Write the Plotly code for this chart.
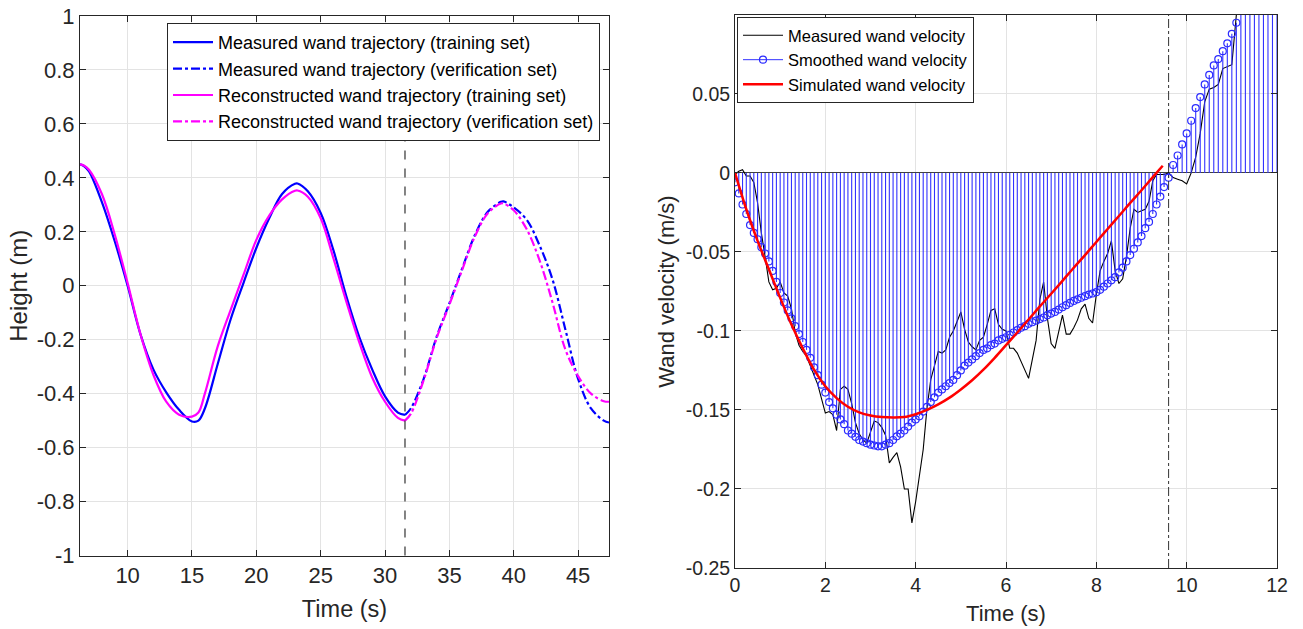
import plotly.graph_objects as go

# ---------------- left panel: wand height ----------------
time_train = [6.3, 6.6, 7, 8, 9, 10, 11, 12, 13, 14, 15, 15.5, 16, 17, 18, 19, 20, 21, 22,
              23, 23.2, 24, 25, 26, 27, 28, 29, 30, 31, 31.55]
height_meas_train = [0.45, 0.444, 0.424, 0.31, 0.165, 0.0, -0.18, -0.31, -0.395, -0.46,
                     -0.503, -0.5, -0.455, -0.29, -0.125, 0.01, 0.14, 0.25, 0.34, 0.378,
                     0.379, 0.35, 0.27, 0.13, -0.04, -0.19, -0.31, -0.41, -0.47, -0.479]
height_rec_train = [0.45, 0.446, 0.43, 0.34, 0.19, 0.01, -0.18, -0.33, -0.43, -0.478,
                    -0.485, -0.47, -0.4, -0.225, -0.09, 0.04, 0.17, 0.26, 0.32, 0.352,
                    0.353, 0.33, 0.25, 0.1, -0.06, -0.21, -0.34, -0.43, -0.49, -0.5]

time_verif = [31.55, 32, 33, 34, 35, 36, 37, 38, 39, 39.2, 40, 41, 42, 43, 44, 45, 46,
              47, 47.4]
height_meas_verif = [-0.479, -0.455, -0.345, -0.19, -0.065, 0.065, 0.19, 0.275, 0.311,
                     0.313, 0.29, 0.245, 0.15, 0.025, -0.16, -0.345, -0.455, -0.5, -0.507]
height_rec_verif = [-0.5, -0.475, -0.35, -0.195, -0.07, 0.06, 0.185, 0.27, 0.305, 0.305,
                    0.28, 0.21, 0.095, -0.06, -0.235, -0.335, -0.4, -0.428, -0.43]

split_time_left = 31.55

left_xticks = [10, 15, 20, 25, 30, 35, 40, 45]
left_yticks = [1, 0.8, 0.6, 0.4, 0.2, 0, -0.2, -0.4, -0.6, -0.8, -1]
left_ylabels = ["1", "0.8", "0.6", "0.4", "0.2", "0", "-0.2", "-0.4", "-0.6", "-0.8", "-1"]

# ---------------- right panel: wand velocity ----------------
# samples every 1/12 s up to 9.5 s, then every 0.1 s
time_samples = [round(k / 12, 4) for k in range(115)] + [round(9.6 + 0.1 * k, 2) for k in range(25)]

vel_smoothed = [
    -0.006, -0.013, -0.020, -0.026, -0.033, -0.038, -0.042, -0.047, -0.051, -0.056,
    -0.062, -0.069, -0.076, -0.082, -0.087, -0.092, -0.097, -0.102, -0.107, -0.112,
    -0.117, -0.123, -0.128, -0.134, -0.139, -0.145, -0.149, -0.153, -0.156, -0.159,
    -0.163, -0.165, -0.167, -0.169, -0.170, -0.171, -0.172, -0.1725, -0.173, -0.173,
    -0.172, -0.171, -0.169, -0.1667, -0.165, -0.163, -0.1605, -0.158, -0.156, -0.154,
    -0.151, -0.148, -0.145, -0.142, -0.139, -0.137, -0.135, -0.133, -0.131, -0.128,
    -0.125, -0.122, -0.120, -0.118, -0.116, -0.114, -0.112, -0.111, -0.109, -0.108,
    -0.106, -0.105, -0.104, -0.1025, -0.101, -0.0995, -0.098, -0.097, -0.0955, -0.0945,
    -0.0935, -0.0925, -0.0915, -0.090, -0.089, -0.088, -0.0865, -0.085, -0.0837, -0.0823,
    -0.081, -0.080, -0.079, -0.078, -0.077, -0.0763, -0.0755, -0.074, -0.072, -0.070,
    -0.068, -0.066, -0.063, -0.060, -0.056, -0.052, -0.048, -0.044, -0.040, -0.035,
    -0.031, -0.026, -0.020, -0.015, -0.009,
    -0.003, 0.005, 0.011, 0.018, 0.025, 0.033, 0.041, 0.048, 0.056, 0.062,
    0.068, 0.072, 0.077, 0.082, 0.088, 0.095, 0.103, 0.111, 0.12, 0.13,
    0.14, 0.15, 0.16, 0.17, 0.18,
]

vel_measured = [
    -0.001, 0.001, 0.002, -0.002, -0.002, -0.006, -0.019, -0.038, -0.053, -0.069,
    -0.074, -0.073, -0.069, -0.076, -0.078, -0.086, -0.101, -0.109, -0.113, -0.116,
    -0.122, -0.128, -0.134, -0.143, -0.152, -0.151, -0.153, -0.163, -0.137, -0.135,
    -0.137, -0.146, -0.158, -0.165, -0.169, -0.171, -0.1645, -0.157, -0.158, -0.161,
    -0.166, -0.1835, -0.180, -0.177, -0.186, -0.200, -0.200, -0.2215, -0.208, -0.191,
    -0.175, -0.149, -0.131, -0.122, -0.113, -0.114, -0.112, -0.104, -0.100, -0.094,
    -0.088, -0.099, -0.107, -0.110, -0.112, -0.106, -0.104, -0.096, -0.087, -0.086,
    -0.096, -0.099, -0.100, -0.111, -0.111, -0.114, -0.119, -0.125, -0.130, -0.118,
    -0.106, -0.080, -0.069, -0.092, -0.108, -0.111, -0.100, -0.090, -0.102, -0.102,
    -0.098, -0.093, -0.086, -0.083, -0.092, -0.095, -0.077, -0.062, -0.056, -0.051,
    -0.043, -0.062, -0.070, -0.067, -0.053, -0.035, -0.023, -0.025, -0.024, -0.023,
    -0.018, -0.005, -0.001, -0.001, -0.001,
    0.0, -0.003, -0.004, -0.005, -0.007, 0.0, 0.010, 0.025, 0.045, 0.053,
    0.054, 0.056, 0.066, 0.067, 0.0685, 0.10, 0.125,
]

time_sim = [0, 0.25, 0.5, 0.75, 1.0, 1.25, 1.5, 1.75, 2.0, 2.25, 2.5, 2.75, 3.0, 3.25,
            3.5, 3.75, 4.0, 4.25, 4.5, 4.75, 5.0, 5.25, 5.5, 5.75, 6.0, 6.25, 6.5, 6.75,
            7.0, 7.25, 7.5, 7.75, 8.0, 8.25, 8.5, 8.75, 9.0, 9.25, 9.47]
vel_simulated = [0, -0.023, -0.043, -0.061, -0.079, -0.096, -0.111, -0.1245, -0.135,
                 -0.1425, -0.148, -0.1515, -0.1535, -0.1545, -0.1548, -0.1545, -0.1527,
                 -0.150, -0.1465, -0.1422, -0.137, -0.1312, -0.1245, -0.117, -0.109,
                 -0.101, -0.0928, -0.0845, -0.0765, -0.0683, -0.060, -0.052, -0.0437,
                 -0.0355, -0.0273, -0.019, -0.011, -0.0027, 0.0045]

split_time_right = 9.6

right_xticks = [0, 2, 4, 6, 8, 10, 12]
right_yticks = [0.05, 0, -0.05, -0.1, -0.15, -0.2, -0.25]
right_ylabels = ["0.05", "0", "-0.05", "-0.1", "-0.15", "-0.2", "-0.25"]

# ---------------- styling ----------------
FONT = "Arial, Liberation Sans, sans-serif"
AXIS_COLOR = "#262626"
GRID_COLOR = "#e3e3e3"
STEM_COLOR = "rgb(50,50,255)"
W, H = 1303, 629


def px_x(p):
    # screen pixel -> paper fraction
    return p / W


def px_y(p):
    return 1 - p / H


fig = go.Figure()

# left panel traces
fig.add_trace(go.Scatter(x=time_train, y=height_meas_train, mode="lines", line_shape="spline",
                         line=dict(color="#0000ff", width=2.2),
                         name="Measured wand trajectory (training set)",
                         xaxis="x", yaxis="y", legend="legend"))
fig.add_trace(go.Scatter(x=time_verif, y=height_meas_verif, mode="lines", line_shape="spline",
                         line=dict(color="#0000ff", width=2.2, dash="dashdot"),
                         name="Measured wand trajectory (verification set)",
                         xaxis="x", yaxis="y", legend="legend"))
fig.add_trace(go.Scatter(x=time_train, y=height_rec_train, mode="lines", line_shape="spline",
                         line=dict(color="#ff00ff", width=2.2),
                         name="Reconstructed wand trajectory (training set)",
                         xaxis="x", yaxis="y", legend="legend"))
fig.add_trace(go.Scatter(x=time_verif, y=height_rec_verif, mode="lines", line_shape="spline",
                         line=dict(color="#ff00ff", width=2.2, dash="dashdot"),
                         name="Reconstructed wand trajectory (verification set)",
                         xaxis="x", yaxis="y", legend="legend"))

# right panel: stems of the smoothed velocity
stem_x, stem_y = [], []
for t, v in zip(time_samples, vel_smoothed):
    stem_x.extend([t, t, None])
    stem_y.extend([0, v, None])

time_measured = time_samples[:len(vel_measured)]

fig.add_trace(go.Scatter(x=time_measured, y=vel_measured, mode="lines",
                         line=dict(color="black", width=1.1),
                         name="Measured wand velocity",
                         xaxis="x2", yaxis="y2", legend="legend2"))
fig.add_trace(go.Scatter(x=stem_x, y=stem_y, mode="lines",
                         line=dict(color=STEM_COLOR, width=1.1),
                         hoverinfo="skip", showlegend=False,
                         xaxis="x2", yaxis="y2"))
fig.add_trace(go.Scatter(x=time_samples, y=vel_smoothed, mode="markers",
                         marker=dict(symbol="circle-open", size=7, color="#2b2bff",
                                     line=dict(width=1.2)),
                         showlegend=False, xaxis="x2", yaxis="y2"))
# legend entry for the stem series
fig.add_trace(go.Scatter(x=[None], y=[None], mode="lines+markers",
                         line=dict(color=STEM_COLOR, width=1),
                         marker=dict(symbol="circle-open", size=7, color="#2b2bff",
                                     line=dict(width=1.2)),
                         name="Smoothed wand velocity",
                         xaxis="x2", yaxis="y2", legend="legend2"))
fig.add_trace(go.Scatter(x=time_sim, y=vel_simulated, mode="lines", line_shape="spline",
                         line=dict(color="#ff0000", width=2.5),
                         name="Simulated wand velocity",
                         xaxis="x2", yaxis="y2", legend="legend2"))

# boundaries between training and verification
fig.add_vline(x=split_time_left, line=dict(color="#333333", width=1.2, dash="dash"),
              xref="x", yref="y")
fig.add_vline(x=split_time_right, line=dict(color="#333333", width=1, dash="dashdot"),
              xref="x2", yref="y2")

axis_common = dict(showline=True, linecolor=AXIS_COLOR, linewidth=1, mirror="ticks",
                   ticks="inside", ticklen=6, tickcolor=AXIS_COLOR,
                   showgrid=True, gridcolor=GRID_COLOR, gridwidth=1,
                   zeroline=False, automargin=False, ticklabeloverflow="allow")

fig.update_layout(
    width=W, height=H,
    margin=dict(l=0, r=0, t=0, b=0, autoexpand=False),
    paper_bgcolor="white", plot_bgcolor="white",
    font=dict(family=FONT, color=AXIS_COLOR),
    xaxis=dict(axis_common, domain=[px_x(80), px_x(609)], range=[6.3, 47.4],
               tickvals=left_xticks, tickfont=dict(size=22, family=FONT, color=AXIS_COLOR),
               title=dict(text="Time (s)", font=dict(size=23.5), standoff=13),
               anchor="y"),
    yaxis=dict(axis_common, domain=[px_y(555.5), px_y(16)], range=[-1, 1],
               tickvals=left_yticks, ticktext=left_ylabels,
               tickfont=dict(size=22, family=FONT, color=AXIS_COLOR),
               title=dict(text="Height (m)", font=dict(size=24), standoff=2),
               anchor="x"),
    xaxis2=dict(axis_common, domain=[px_x(735), px_x(1277)], range=[0, 12],
                tickvals=right_xticks, tickfont=dict(size=19.5, family=FONT, color=AXIS_COLOR),
                title=dict(text="Time (s)", font=dict(size=22), standoff=10),
                anchor="y2"),
    yaxis2=dict(axis_common, domain=[px_y(568), px_y(15)], range=[-0.25, 0.0999],
                tickvals=right_yticks, ticktext=right_ylabels,
                tickfont=dict(size=19.5, family=FONT, color=AXIS_COLOR),
                title=dict(text="Wand velocity (m/s)", font=dict(size=22), standoff=4),
                zeroline=True, zerolinecolor="#404040", zerolinewidth=1.2,
                anchor="x2"),
    legend=dict(x=px_x(600), y=px_y(23), xanchor="right", yanchor="top",
                bgcolor="white", bordercolor="#262626", borderwidth=1,
                font=dict(family=FONT, size=18, color="black"),
                tracegroupgap=0, itemwidth=40),
    legend2=dict(x=px_x(737), y=px_y(17), xanchor="left", yanchor="top",
                 bgcolor="white", bordercolor="#262626", borderwidth=1,
                 font=dict(family=FONT, size=16.5, color="black"),
                 tracegroupgap=0, itemwidth=40),
)

# drop the page's default body margin so the figure fills the window
fig.write_html("out.html", config={"displayModeBar": False},
               post_script="document.body.style.margin = '0px';")
